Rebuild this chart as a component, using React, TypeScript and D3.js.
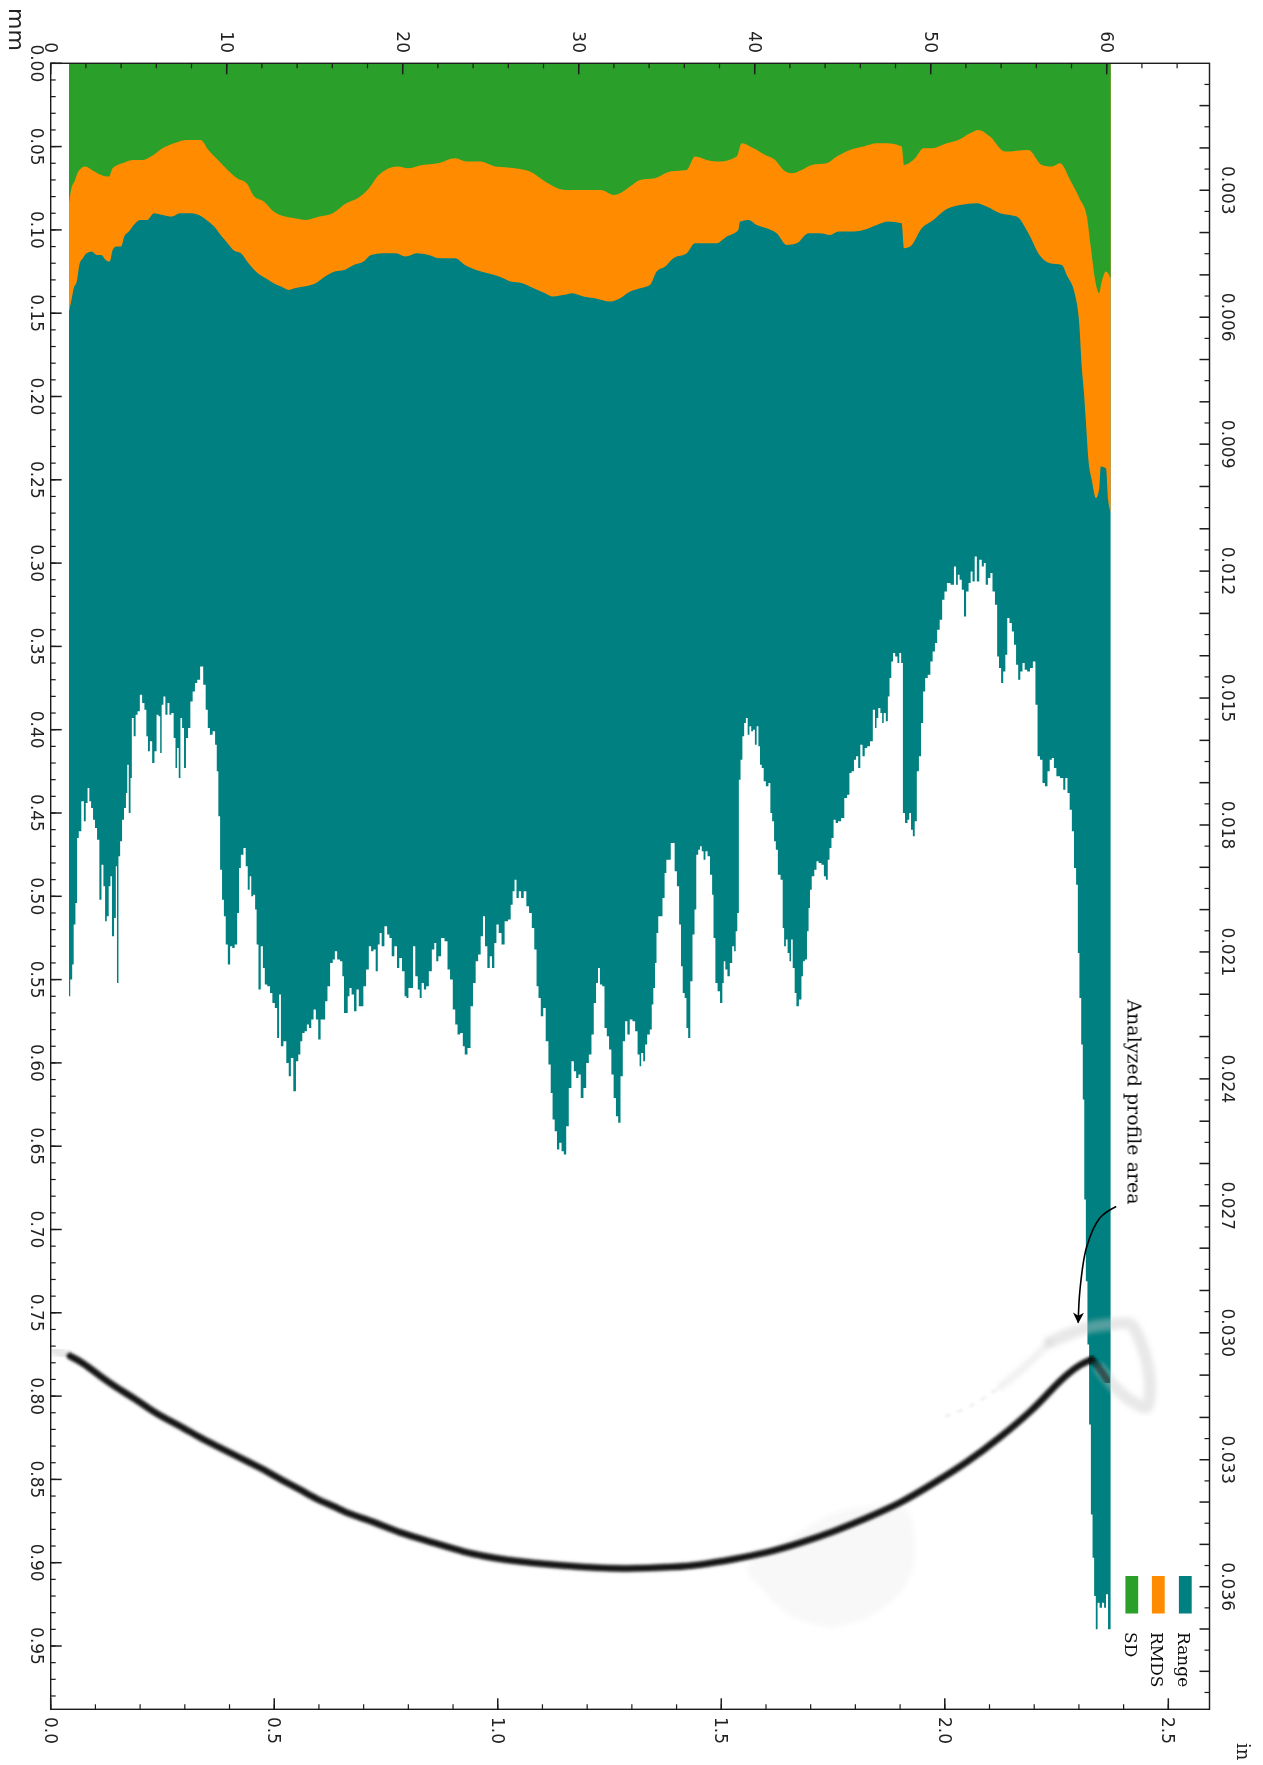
import React from "react";
import * as d3 from "d3";

type P = [number, number];

// [position along profile in mm, depth in mm]
const rangeEdge: P[] = [
[1.04,.560],[1.18,.550],[1.26,.541],[1.35,.517],[1.46,.504],[1.54,.465],[1.65,.461],[1.83,.443],[1.94,.455],[2.04,.444],[2.15,.435],[2.24,.443],[2.35,.447],[2.46,.454],[2.57,.459],[2.70,.466],[2.83,.502],[2.94,.481],[3.05,.494],[3.13,.515],[3.24,.512],[3.35,.494],[3.44,.488],[3.52,.524],[3.68,.513],[3.72,.482],[3.81,.552],[3.89,.476],[4.00,.467],[4.11,.454],[4.22,.447],[4.33,.438],[4.37,.421],[4.50,.450],[4.57,.429],[4.65,.393],[4.78,.404],[4.87,.391],[5.00,.389],[5.13,.379],[5.26,.384],[5.39,.388],[5.48,.404],[5.57,.413],[5.70,.407],[5.83,.420],[5.96,.413],[6.07,.391],[6.18,.392],[6.26,.414],[6.35,.385],[6.46,.380],[6.57,.391],[6.70,.384],[6.79,.391],[6.92,.390],[7.05,.405],[7.13,.423],[7.22,.411],[7.33,.429],[7.41,.393],[7.52,.399],[7.63,.423],[7.74,.405],[7.87,.399],[8.00,.383],[8.13,.377],[8.26,.372],[8.39,.370],[8.59,.362],[8.74,.373],[8.87,.388],[8.98,.399],[9.11,.403],[9.29,.401],[9.39,.409],[9.48,.425],[9.57,.452],[9.68,.484],[9.79,.502],[9.89,.512],[10.0,.529],[10.13,.541],[10.26,.530],[10.37,.531],[10.53,.529],[10.66,.510],[10.74,.483],[10.87,.475],[11.03,.471],[11.13,.482],[11.26,.496],[11.35,.488],[11.44,.500],[11.57,.499],[11.66,.508],[11.74,.529],[11.87,.556],[12.00,.530],[12.11,.543],[12.22,.553],[12.39,.554],[12.53,.558],[12.66,.564],[12.81,.567],[12.92,.585],[13.03,.559],[13.13,.590],[13.31,.587],[13.46,.600],[13.59,.608],[13.70,.597],[13.87,.617],[14.00,.599],[14.13,.595],[14.24,.587],[14.35,.582],[14.50,.581],[14.61,.577],[14.74,.579],[14.87,.574],[15.00,.568],[15.13,.574],[15.27,.586],[15.40,.574],[15.53,.574],[15.66,.563],[15.79,.554],[15.96,.540],[16.09,.538],[16.20,.533],[16.35,.538],[16.53,.539],[16.61,.548],[16.72,.570],[16.83,.570],[16.92,.560],[17.03,.555],[17.16,.559],[17.31,.569],[17.44,.556],[17.57,.566],[17.70,.566],[17.83,.554],[18.01,.544],[18.14,.530],[18.27,.533],[18.40,.532],[18.53,.545],[18.64,.529],[18.74,.522],[18.87,.530],[19.05,.518],[19.18,.523],[19.31,.525],[19.44,.536],[19.61,.530],[19.74,.543],[19.87,.537],[20.05,.545],[20.16,.560],[20.27,.561],[20.38,.555],[20.53,.555],[20.64,.530],[20.79,.548],[20.92,.556],[21.01,.561],[21.14,.552],[21.27,.556],[21.40,.554],[21.57,.545],[21.74,.532],[21.85,.528],[21.96,.539],[22.09,.536],[22.27,.525],[22.48,.527],[22.61,.544],[22.77,.550],[22.92,.568],[23.05,.577],[23.18,.583],[23.35,.582],[23.48,.590],[23.57,.595],[23.79,.591],[23.92,.566],[24.07,.552],[24.22,.539],[24.35,.535],[24.51,.524],[24.61,.512],[24.74,.530],[24.88,.543],[25.01,.536],[25.14,.543],[25.27,.528],[25.38,.517],[25.53,.522],[25.70,.529],[25.88,.515],[26.09,.514],[26.18,.505],[26.31,.497],[26.40,.490],[26.53,.501],[26.66,.497],[26.79,.501],[26.96,.497],[27.09,.506],[27.27,.510],[27.40,.519],[27.55,.532],[27.66,.554],[27.77,.561],[27.92,.572],[28.05,.567],[28.20,.587],[28.36,.601],[28.46,.618],[28.57,.634],[28.70,.641],[28.83,.652],[28.96,.648],[29.09,.653],[29.22,.655],[29.36,.638],[29.51,.615],[29.66,.599],[29.79,.605],[29.92,.609],[30.05,.607],[30.18,.621],[30.36,.615],[30.49,.600],[30.66,.595],[30.79,.583],[30.92,.564],[31.05,.552],[31.14,.543],[31.27,.553],[31.40,.554],[31.53,.579],[31.66,.584],[31.79,.592],[31.92,.607],[32.05,.621],[32.18,.632],[32.31,.636],[32.44,.608],[32.57,.587],[32.70,.575],[32.83,.583],[32.97,.574],[33.14,.575],[33.27,.581],[33.42,.595],
[33.50,.602],[33.60,.594],[33.73,.599],[33.81,.589],[33.97,.583],[34.11,.580],[34.19,.565],[34.29,.555],[34.38,.540],[34.46,.522],[34.58,.512],[34.70,.512],[34.82,.501],[34.94,.486],[35.02,.478],[35.19,.478],[35.27,.468],[35.39,.468],[35.51,.485],[35.65,.494],[35.76,.517],[35.86,.542],[35.96,.558],[36.08,.561],[36.16,.579],[36.28,.585],[36.40,.551],[36.53,.523],[36.63,.508],[36.73,.475],[36.85,.472],[36.93,.470],[37.05,.473],[37.14,.478],[37.26,.473],[37.38,.476],[37.54,.487],[37.62,.499],[37.70,.525],[37.83,.552],[37.95,.557],[38.11,.564],[38.21,.552],[38.27,.539],[38.39,.544],[38.51,.548],[38.66,.540],[38.78,.530],[38.88,.533],[38.96,.521],[39.06,.510],[39.14,.430],[39.25,.418],[39.35,.404],[39.45,.396],[39.55,.393],[39.65,.403],[39.75,.398],[39.85,.401],[39.96,.400],[40.06,.409],[40.16,.398],[40.26,.410],[40.34,.421],[40.46,.423],[40.56,.431],[40.71,.434],[40.85,.432],[40.93,.450],[41.05,.455],[41.15,.467],[41.25,.472],[41.38,.487],[41.56,.490],[41.62,.519],[41.72,.530],[41.82,.526],[41.92,.534],[42.03,.539],[42.11,.526],[42.21,.543],[42.33,.558],[42.41,.566],[42.61,.562],[42.70,.548],[42.78,.539],[42.92,.538],[43.02,.521],[43.10,.507],[43.18,.496],[43.30,.488],[43.47,.484],[43.55,.479],[43.71,.480],[43.87,.481],[43.99,.488],[44.10,.490],[44.20,.478],[44.30,.471],[44.42,.465],[44.54,.454],[44.66,.456],[44.81,.455],[45.01,.453],[45.17,.441],[45.33,.439],[45.43,.426],[45.58,.425],[45.70,.418],[45.82,.416],[45.94,.423],[46.06,.409],[46.19,.416],[46.31,.411],[46.47,.410],[46.63,.407],[46.79,.388],[46.88,.399],[46.96,.393],[47.08,.387],[47.20,.390],[47.28,.396],[47.38,.390],[47.52,.395],[47.61,.380],[47.71,.369],[47.81,.359],[47.91,.354],[48.05,.356],[48.17,.360],[48.26,.354],[48.38,.360],[48.46,.450],[48.62,.456],[48.74,.454],[48.82,.450],[48.94,.460],[49.03,.464],[49.15,.455],[49.27,.425],[49.39,.416],[49.51,.396],[49.63,.377],[49.74,.369],[49.92,.367],[50.04,.359],[50.18,.353],[50.30,.348],[50.43,.340],[50.59,.334],[50.71,.322],[50.85,.317],[50.99,.312],[51.26,.313],[51.38,.302],[51.50,.313],[51.58,.307],[51.70,.310],[51.83,.316],[51.95,.332],[52.07,.317],[52.23,.312],[52.31,.305],[52.44,.311],[52.56,.296],[52.68,.311],[52.84,.298],[52.96,.302],[53.08,.300],[53.17,.313],[53.33,.309],[53.45,.306],[53.57,.317],[53.73,.325],[53.82,.356],[53.94,.363],[54.06,.372],[54.18,.365],[54.30,.355],[54.40,.333],[54.55,.336],[54.67,.341],[54.79,.349],[54.91,.361],[55.03,.370],[55.15,.365],[55.28,.360],[55.40,.364],[55.56,.365],[55.72,.363],[55.89,.359],[56.01,.385],[56.13,.416],[56.29,.418],[56.41,.432],[56.57,.434],[56.70,.425],[56.82,.418],[56.94,.417],[57.06,.423],[57.22,.428],[57.47,.429],[57.59,.436],[57.71,.429],[57.83,.438],[57.96,.448],[58.08,.461],[58.20,.483],[58.32,.493],[58.40,.534],[58.50,.561],[58.60,.589],[58.68,.622],[58.77,.682],[58.86,.731],[58.95,.769],[59.05,.817],[59.15,.871],[59.24,.897],[59.33,.920],[59.43,.940],[59.53,.924],[59.66,.927],[59.80,.924],[59.90,.927],[60.02,.919],[60.13,.940],[60.22,.940],
];

const rmdsEdge: P[] = [
[1.04,.149],[1.18,.142],[1.31,.135],[1.48,.131],[1.65,.120],[1.83,.117],[2.04,.114],[2.33,.113],[2.61,.115],[2.87,.115],[3.13,.118],[3.35,.119],[3.52,.112],[3.74,.110],[4.00,.110],[4.18,.104],[4.44,.101],[4.72,.097],[5.09,.094],[5.48,.094],[5.87,.090],[6.35,.091],[6.89,.092],[7.33,.090],[7.98,.090],[8.42,.091],[8.85,.094],[9.29,.098],[9.72,.104],[10.05,.108],[10.37,.112],[10.81,.114],[11.24,.120],[11.57,.124],[11.90,.127],[12.22,.129],[12.66,.132],[13.09,.134],[13.53,.136],[13.85,.135],[14.40,.134],[15.05,.132],[15.59,.128],[16.13,.125],[16.68,.124],[17.22,.121],[17.77,.119],[18.20,.115],[18.85,.114],[19.61,.114],[20.16,.116],[20.81,.114],[21.46,.115],[22.11,.117],[22.98,.117],[23.53,.121],[24.18,.124],[24.83,.126],[25.48,.128],[26.14,.131],[26.79,.132],[27.44,.135],[28.09,.138],[28.53,.140],[29.18,.139],[29.62,.138],[30.27,.140],[30.92,.141],[31.79,.143],[32.35,.141],[32.92,.137],[33.49,.135],[34.05,.133],[34.43,.125],[34.91,.122],[35.38,.117],[36.14,.114],[36.61,.108],[37.27,.108],[37.84,.108],[38.41,.104],[39.07,.100],[39.17,.095],[39.64,.094],[40.12,.097],[40.68,.099],[41.25,.102],[41.82,.109],[42.39,.108],[43.05,.102],[43.71,.102],[44.28,.103],[44.76,.101],[45.42,.101],[46.18,.100],[46.93,.097],[47.60,.095],[48.35,.096],[48.49,.111],[48.83,.110],[49.49,.099],[50.15,.094],[50.82,.088],[51.67,.085],[52.62,.084],[53.18,.086],[53.94,.090],[54.89,.092],[55.55,.102],[56.18,.115],[56.78,.120],[57.45,.121],[57.73,.127],[58.20,.139],[58.45,.158],[58.58,.182],[58.71,.198],[58.81,.214],[58.96,.238],[59.15,.250],[59.39,.261],[59.58,.255],[59.66,.242],[59.96,.243],[60.08,.262],[60.22,.269],
];

const sdEdge: P[] = [
[1.04,.084],[1.18,.075],[1.35,.071],[1.57,.065],[1.96,.062],[2.33,.064],[2.87,.067],[3.31,.068],[3.52,.063],[4.07,.060],[4.72,.058],[5.26,.058],[5.70,.056],[6.35,.051],[7.00,.048],[7.76,.046],[8.52,.046],[8.96,.052],[9.50,.058],[10.05,.064],[10.59,.069],[11.13,.072],[11.57,.080],[12.11,.083],[12.66,.089],[13.31,.092],[13.85,.093],[14.50,.094],[15.27,.092],[16.03,.090],[16.79,.084],[17.44,.081],[18.09,.075],[18.64,.067],[19.72,.062],[20.27,.063],[21.14,.061],[22.01,.060],[22.98,.057],[23.64,.059],[24.40,.059],[25.27,.062],[26.36,.063],[27.23,.065],[28.09,.071],[29.18,.076],[30.27,.076],[31.25,.076],[32.01,.079],[32.35,.078],[32.92,.074],[33.49,.070],[34.34,.069],[35.19,.065],[36.14,.064],[36.61,.056],[37.27,.058],[38.03,.059],[38.98,.056],[39.26,.048],[39.93,.051],[40.59,.055],[41.16,.058],[41.63,.064],[42.10,.066],[42.67,.064],[43.24,.061],[44.09,.060],[44.66,.056],[45.42,.052],[46.18,.050],[46.93,.048],[47.50,.048],[48.35,.050],[48.49,.061],[49.11,.057],[49.59,.051],[50.06,.051],[50.91,.048],[51.57,.046],[52.24,.042],[52.71,.040],[53.37,.044],[54.22,.053],[55.55,.052],[56.31,.061],[56.88,.062],[57.35,.060],[57.92,.070],[58.45,.081],[58.87,.092],[59.09,.110],[59.34,.130],[59.57,.138],[59.72,.131],[59.96,.125],[60.22,.129],
];

const profile: P[] = [
[1.10,.776],[1.85,.780],[2.80,.788],[3.75,.795],[4.70,.801],[5.64,.808],[6.59,.814],[7.54,.819],[8.48,.825],[9.43,.830],[10.38,.835],[11.32,.840],[12.27,.845],[13.22,.851],[14.17,.856],[15.11,.862],[16.06,.866],[17.00,.871],[17.95,.874],[18.90,.878],[19.85,.882],[20.79,.885],[21.74,.888],[22.69,.891],[23.64,.894],[24.58,.896],[25.53,.898],[29.1,.902],[32.6,.904],[35.5,.9026],[36.89,.9014],[38.78,.898],[40.68,.8942],[42.57,.8883],[44.46,.8815],[46.36,.8732],[48.26,.8645],[50.15,.8525],[52.05,.840],[53.94,.825],[55.83,.808],[56.78,.797],[57.73,.787],[58.48,.781],[59.15,.778],
];
const profileEnd: P[] = [[59.0,.778],[59.3,.779],[59.62,.784],[60.09,.791]];

const ghostStart: P[] = [[.13,.7723],[1.1,.776]];
const ghostTail: P[] = [[50.9,.812],[52.33,.8056],[53.94,.7945]];
const ghostRise: P[] = [[53.94,.7945],[54.9,.7865],[55.83,.7775],[56.78,.7676]];
const ghostLoop: P[] = [[56.78,.7676],[57.73,.7633],[58.86,.7591],[60.38,.7567],[61.33,.7567],[61.89,.7666],[62.37,.7838],[62.46,.7945],[62.27,.8066],[61.5,.8035],[60.57,.7957],[59.62,.7838]];
const ghostDisc: P[] = [[39.55,.9032],[40.3,.9144],[41.82,.9303],[43.14,.9363],[44.46,.9384],[46.36,.9333],[47.87,.9224],[48.82,.9084],[49.11,.8924],[48.64,.8684],[46.5,.866],[44.46,.8704],[42.76,.8804]];

const arrowPath: P[] = [[60.54,.6862],[59.62,.693],[58.86,.7105],[58.48,.7363],[58.38,.7558]];

const legendNames = ["Range", "RMDS", "SD"];
const legendColors = ["#008080", "#ff8c00", "#2ca02c"];

const xMmMajor = [0, 10, 20, 30, 40, 50, 60];
const xMmMinor = d3.range(0, 66, 2);
const xInMajor = [0, 0.5, 1, 1.5, 2, 2.5];
const xInMinor = d3.range(0, 2.55, 0.1);
const yMmMajor = d3.range(0, 20).map((i) => i * 0.05);
const yMmMinor = d3.range(0, 99).map((i) => i * 0.01);
const yInLabels = [3, 6, 9, 12, 15, 18, 21, 24, 27, 30, 33, 36].map((v) => v / 1000);
const yInLong = d3.range(1, 39).map((i) => i * 0.001);
const yInShort = d3.range(0, 39).map((i) => i * 0.001 + 0.0005);

const left = 50.7, right = 1209.5, top = 63.3, bottom = 1709.3;
const xMax = 65.84, yMax = 0.988;
const x = d3.scaleLinear().domain([0, xMax]).range([left, right]);
const xIn = d3.scaleLinear().domain([0, xMax / 25.4]).range([left, right]);
const y = d3.scaleLinear().domain([0, yMax]).range([top, bottom]);
const yIn = d3.scaleLinear().domain([0, yMax / 25.4]).range([top, bottom]);

const area = (curve: d3.CurveFactory) =>
  d3.area<P>().x((d) => x(d[0])).y0(y(0)).y1((d) => y(d[1])).curve(curve);
const smooth = d3.line<P>().x((d) => x(d[0])).y((d) => y(d[1])).curve(d3.curveCatmullRom);
const basis = d3.line<P>().x((d) => x(d[0])).y((d) => y(d[1])).curve(d3.curveBasis);
const closed = d3.line<P>().x((d) => x(d[0])).y((d) => y(d[1])).curve(d3.curveCatmullRomClosed);

const SANS = "'DejaVu Sans', sans-serif";
const SERIF = "'DejaVu Serif', serif";
const AX = "#1a1a1a";

const Rot = ({ px, py, size = 17, anchor = "middle", fam = SANS, fill = "#222", children }: any) => (
  <text
    transform={`translate(${px},${py}) rotate(90)`}
    fontFamily={fam}
    fontSize={size}
    textAnchor={anchor}
    dominantBaseline="central"
    fill={fill}
  >
    {children}
  </text>
);

export default function App() {
  const legendX = [1185.3, 1158.3, 1131.8];
  const legendLabelX = [1184, 1157, 1131];
  return (
    <svg
      width={1263}
      height={1765}
      viewBox="0 0 1263 1765"
      style={{ position: "absolute", left: 0, top: 0, background: "#fff" }}
    >
      <defs>
        <filter id="soft" x="0" y="0" width="100%" height="100%">
          <feGaussianBlur stdDeviation="0.45" />
        </filter>
        <filter id="soft2" x="-5%" y="-5%" width="110%" height="110%">
          <feGaussianBlur stdDeviation="1" />
        </filter>
        <filter id="soft3" x="-10%" y="-10%" width="120%" height="120%">
          <feGaussianBlur stdDeviation="2.5" />
        </filter>
        <marker id="head" viewBox="0 0 10 10" refX="9" refY="5" markerWidth="11" markerHeight="11" markerUnits="userSpaceOnUse" orient="auto">
          <path d="M0,0 L10,5 L0,10 L3,5 Z" fill="#000" />
        </marker>
      </defs>
      <g filter="url(#soft)">
        <path d={area(d3.curveStep)(rangeEdge)!} fill={legendColors[0]} />
        <path d={area(d3.curveMonotoneX)(rmdsEdge)!} fill={legendColors[1]} />
        <path d={area(d3.curveMonotoneX)(sdEdge)!} fill={legendColors[2]} />

        <g fill="none" strokeLinecap="round" strokeLinejoin="round">
          <path d={closed(ghostDisc)!} fill="#000" fillOpacity={0.028} filter="url(#soft3)" />
          <path d={smooth(ghostStart)!} stroke="#bbb" strokeOpacity={0.4} strokeWidth={9} filter="url(#soft3)" />
          <path d={smooth(ghostTail)!} stroke="#ccc" strokeOpacity={0.3} strokeWidth={3} strokeDasharray="3 10" filter="url(#soft2)" />
          <path d={smooth(ghostRise)!} stroke="#ccc" strokeOpacity={0.3} strokeWidth={7} filter="url(#soft3)" />
          <path d={smooth(ghostLoop)!} stroke="#c8c8c8" strokeOpacity={0.42} strokeWidth={12} filter="url(#soft3)" />
          <path d={basis(profile)!} stroke="#000" strokeOpacity={0.2} strokeWidth={9.5} filter="url(#soft2)" />
          <path d={basis(profile)!} stroke="#0a0a0a" strokeOpacity={0.95} strokeWidth={6} filter="url(#soft2)" />
          <path d={basis(profileEnd)!} stroke="#111" strokeOpacity={0.55} strokeWidth={7} filter="url(#soft2)" />
        </g>

        {/* arrow */}
        <path d={smooth(arrowPath)!} fill="none" stroke="#000" strokeWidth={1.6} markerEnd="url(#head)" />
        <Rot px={1134.5} py={1102} size={19} fam={SERIF} fill="#111">Analyzed profile area</Rot>

        {/* legend */}
        {legendNames.map((name, i) => (
          <g key={name}>
            <rect x={legendX[i] - 6.4} y={1576} width={12.8} height={37.5} fill={legendColors[i]} />
            <Rot px={legendLabelX[i]} py={1632} size={17} anchor="start" fam={SERIF} fill="#111">{name}</Rot>
          </g>
        ))}

        {/* frame */}
        <rect x={left} y={top} width={right - left} height={bottom - top} fill="none" stroke={AX} strokeWidth={1.4} />

        {/* ticks */}
        <g stroke={AX} strokeWidth={1.2}>
          {xMmMinor.map((v) => <line key={v} x1={x(v)} x2={x(v)} y1={top} y2={top + 5} />)}
          {xMmMajor.map((v) => <line key={v} x1={x(v)} x2={x(v)} y1={top} y2={top + 11} strokeWidth={1.5} />)}
          {xInMinor.map((v) => <line key={v} x1={xIn(v)} x2={xIn(v)} y1={bottom} y2={bottom - 5} />)}
          {xInMajor.map((v) => <line key={v} x1={xIn(v)} x2={xIn(v)} y1={bottom} y2={bottom - 11} strokeWidth={1.5} />)}
          {yMmMinor.map((v) => <line key={v} x1={left} x2={left + 5} y1={y(v)} y2={y(v)} />)}
          {yMmMajor.map((v) => <line key={v} x1={left} x2={left + 11} y1={y(v)} y2={y(v)} strokeWidth={1.5} />)}
          {yInShort.map((v) => <line key={v} x1={right} x2={right - 5} y1={yIn(v)} y2={yIn(v)} />)}
          {yInLong.map((v) => <line key={v} x1={right} x2={right - 10} y1={yIn(v)} y2={yIn(v)} strokeWidth={1.5} />)}
        </g>

        {/* tick labels */}
        {xMmMajor.map((v) => <Rot key={v} px={x(v)} py={53} anchor="end">{v}</Rot>)}
        {xInMajor.map((v) => <Rot key={v} px={xIn(v)} py={1717} anchor="start">{v.toFixed(1)}</Rot>)}
        {yMmMajor.map((v) => <Rot key={v} px={37} py={y(v)}>{v.toFixed(2)}</Rot>)}
        {yInLabels.map((v) => <Rot key={v} px={1228} py={yIn(v)}>{v.toFixed(3)}</Rot>)}

        <Rot px={17} py={8} size={22} anchor="start">mm</Rot>
        <Rot px={1244} py={1743} size={18} anchor="start" fam={SERIF}>in</Rot>
      </g>
    </svg>
  );
}
